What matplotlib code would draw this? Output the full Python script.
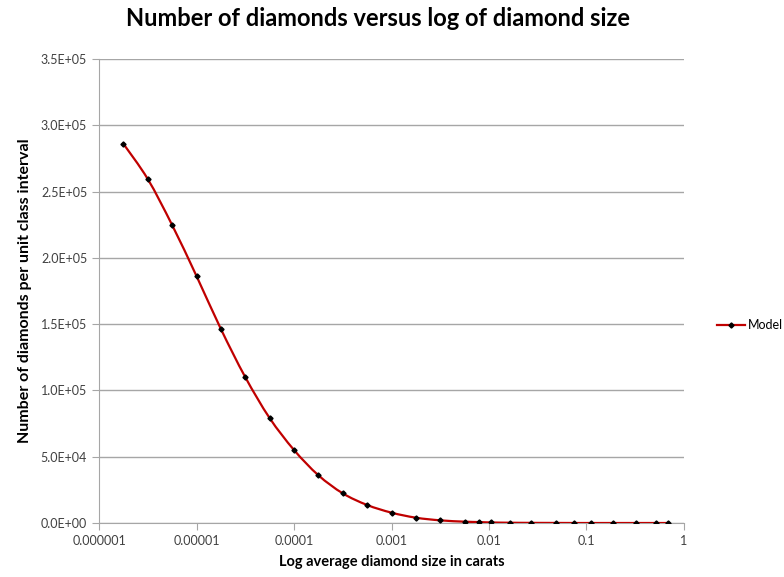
import numpy as np
import matplotlib.pyplot as plt
from matplotlib.path import Path
from matplotlib.patches import PathPatch
from matplotlib.lines import Line2D
from matplotlib.ticker import FuncFormatter, FixedLocator

# average diamond size (carats) and number of diamonds per unit class interval
sizes = [1.78e-6, 3.16e-6, 5.62e-6, 1.0e-5, 1.78e-5, 3.16e-5, 5.62e-5, 1.0e-4,
         1.78e-4, 3.16e-4, 5.62e-4, 1.0e-3, 1.78e-3, 3.16e-3, 5.62e-3, 7.9e-3,
         0.0104, 0.0166, 0.027, 0.049, 0.075, 0.112, 0.186, 0.32, 0.52, 0.69]
counts = [2.86e5, 2.595e5, 2.248e5, 1.863e5, 1.463e5, 1.101e5, 0.792e5, 0.551e5,
          0.360e5, 0.224e5, 0.136e5, 0.078e5, 0.040e5, 0.020e5, 0.010e5, 0.007e5,
          0.004e5, 0.002e5, 0.001e5, 0.0005e5, 0.0, 0.0, 0.0, 0.0, 0.0, 0.0]

x_ticks = [1e-6, 1e-5, 1e-4, 1e-3, 1e-2, 1e-1, 1]
x_tick_labels = ['0.000001', '0.00001', '0.0001', '0.001', '0.01', '0.1', '1']

LINE_COLOR = '#c00000'

plt.rcParams['font.family'] = ['Lato', 'DejaVu Sans']


def smooth_path(xs, ys):
    # Excel-style smoothed line: bezier segments built in log-x space
    lx = np.log10(xs)
    ys = np.asarray(ys, dtype=float)
    n = len(lx)
    verts = [(xs[0], ys[0])]
    codes = [Path.MOVETO]
    for i in range(n - 1):
        i0, i2 = max(i - 1, 0), min(i + 2, n - 1)
        c1x = lx[i] + (lx[i + 1] - lx[i0]) / 6
        c1y = ys[i] + (ys[i + 1] - ys[i0]) / 6
        c2x = lx[i + 1] - (lx[i2] - lx[i]) / 6
        c2y = ys[i + 1] - (ys[i2] - ys[i]) / 6
        verts += [(10 ** c1x, c1y), (10 ** c2x, c2y), (xs[i + 1], ys[i + 1])]
        codes += [Path.CURVE4] * 3
    return Path(verts, codes)


fig = plt.figure(figsize=(7.84, 5.77), dpi=100)
ax = fig.add_axes([99 / 784, 1 - 523 / 577, 585 / 784, 464 / 577])

ax.set_xscale('log')
ax.add_patch(PathPatch(smooth_path(sizes, counts), facecolor='none',
                       edgecolor=LINE_COLOR, linewidth=1.6, zorder=3))
ax.plot(sizes, counts, linestyle='none', marker='D', markersize=2.6,
        markerfacecolor='black', markeredgecolor='black', zorder=4)

ax.set_xlim(1e-6, 1)
ax.set_ylim(0, 3.5e5)
ax.xaxis.set_major_locator(FixedLocator(x_ticks))
ax.xaxis.set_minor_locator(FixedLocator([]))
ax.set_xticklabels(x_tick_labels)
ax.set_yticks(np.arange(0, 3.51e5, 0.5e5))
ax.yaxis.set_major_formatter(FuncFormatter(lambda v, p: f'{v:.1E}'))

ax.grid(axis='y', color='#a6a6a6', linewidth=1)
ax.set_axisbelow(True)
for s in ['top', 'right']:
    ax.spines[s].set_visible(False)
for s in ['left', 'bottom']:
    ax.spines[s].set_color('#a6a6a6')
ax.tick_params(axis='both', colors='#a6a6a6', labelcolor='#404040',
               labelsize=9, length=5)

ax.set_xlabel('Log average diamond size in carats', fontsize=10.5,
              fontweight='bold', labelpad=6)
ax.set_ylabel('Number of diamonds per unit class interval', fontsize=11.5,
              fontweight='bold', labelpad=6)
fig.text(378 / 784, 1 - 18 / 577, 'Number of diamonds versus log of diamond size',
         ha='center', va='center', fontsize=17, fontweight='bold')

handle = Line2D([], [], color=LINE_COLOR, linewidth=1.6, marker='D',
                markersize=2.6, markerfacecolor='black', markeredgecolor='black')
fig.legend([handle], ['Model'], loc='center left',
           bbox_to_anchor=(712 / 784, 1 - 325 / 577), frameon=False,
           fontsize=9, handlelength=2.2, handletextpad=0.3, borderaxespad=0)

fig.savefig('out.png', dpi=100)
